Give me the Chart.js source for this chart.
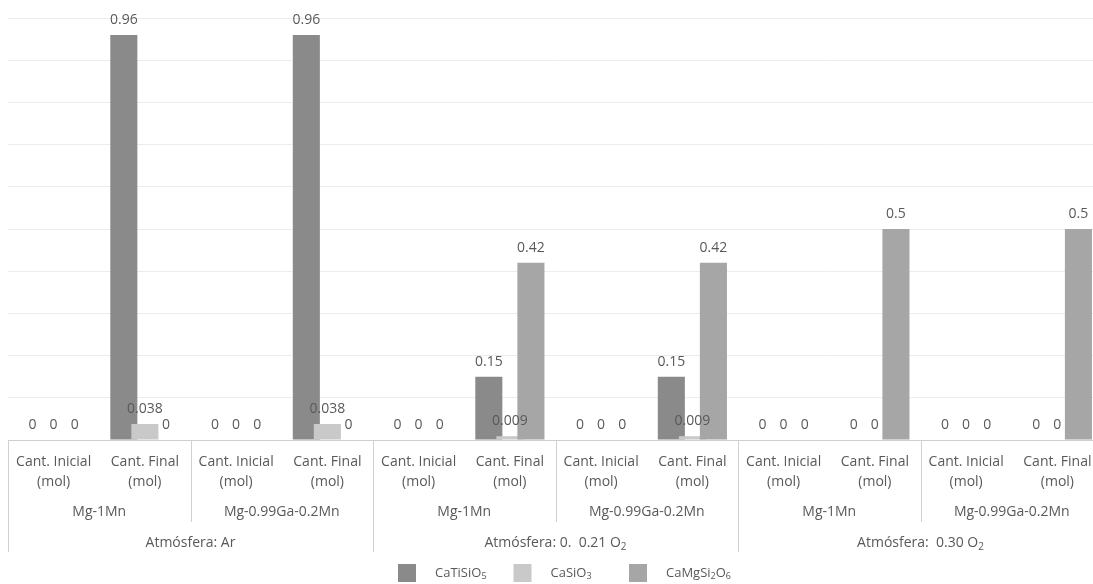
<!DOCTYPE html>
<html>
<head>
<meta charset="utf-8">
<script src="https://cdn.jsdelivr.net/npm/chart.js@4/dist/chart.umd.min.js"></script>
<style>
  html, body { margin: 0; padding: 0; background: #ffffff; overflow: hidden; }
  #wrap { width: 1104px; height: 584px; }
</style>
</head>
<body>
<div id="wrap"><canvas id="chart" width="1104" height="584"></canvas></div>
<script>
// Category labels (innermost level of the x axis)
const categories = [
  ["Cant. Inicial", "(mol)"], ["Cant. Final", "(mol)"],
  ["Cant. Inicial", "(mol)"], ["Cant. Final", "(mol)"],
  ["Cant. Inicial", "(mol)"], ["Cant. Final", "(mol)"],
  ["Cant. Inicial", "(mol)"], ["Cant. Final", "(mol)"],
  ["Cant. Inicial", "(mol)"], ["Cant. Final", "(mol)"],
  ["Cant. Inicial", "(mol)"], ["Cant. Final", "(mol)"]
];
// Second level: alloy, spans two categories each
const alloys = ["Mg-1Mn", "Mg-0.99Ga-0.2Mn", "Mg-1Mn", "Mg-0.99Ga-0.2Mn", "Mg-1Mn", "Mg-0.99Ga-0.2Mn"];
// Third level: atmosphere, spans two alloys each ("_" marks a subscript character)
const atmospheres = ["Atmósfera: Ar", "Atmósfera: 0.  0.21 O_2", "Atmósfera:  0.30 O_2"];

// Series names ("_" marks a subscript character)
const seriesNames = ["CaTiSiO_5", "CaSiO_3", "CaMgSi_2O_6"];
const seriesColors = ["#8a8a8a", "#c9c9c9", "#a6a6a6"];

// Amounts in mol
const caTiSiO5  = [0, 0.96, 0, 0.96, 0, 0.15,  0, 0.15,  0, 0,   0, 0];
const caSiO3    = [0, 0.038, 0, 0.038, 0, 0.009, 0, 0.009, 0, 0, 0, 0];
const caMgSi2O6 = [0, 0, 0, 0, 0, 0.42, 0, 0.42, 0, 0.5, 0, 0.5];

const FONT = "'Open Sans', 'DejaVu Sans', sans-serif";
const TEXT_COLOR = "#595959";
const LINE_COLOR = "#d0d0d0";

function parseRich(s) {
  const parts = [];
  let buf = "";
  for (let i = 0; i < s.length; i++) {
    if (s[i] === "_") {
      if (buf) { parts.push({ t: buf, sub: false }); buf = ""; }
      parts.push({ t: s[i + 1], sub: true });
      i++;
    } else {
      buf += s[i];
    }
  }
  if (buf) parts.push({ t: buf, sub: false });
  return parts;
}

function drawRich(ctx, s, x, y, size, align) {
  const parts = parseRich(s);
  const subSize = Math.round(size * 0.68);
  let w = 0;
  parts.forEach(p => {
    ctx.font = (p.sub ? subSize : size) + "px " + FONT;
    p.w = ctx.measureText(p.t).width;
    w += p.w;
  });
  let cx = align === "center" ? x - w / 2 : x;
  ctx.textAlign = "left";
  ctx.textBaseline = "middle";
  parts.forEach(p => {
    ctx.font = (p.sub ? subSize : size) + "px " + FONT;
    ctx.fillText(p.t, cx, p.sub ? y + size * 0.28 : y);
    cx += p.w;
  });
}

const groupedAxis = {
  id: "groupedAxis",
  // bars are painted in series order so later series sit on top of earlier ones
  beforeDatasetsDraw(chart) {
    const metas = chart.getSortedVisibleDatasetMetas().slice().sort((a, b) => a.index - b.index);
    const ctx = chart.ctx;
    const a = chart.chartArea;
    ctx.save();
    ctx.beginPath();
    ctx.rect(a.left, a.top - 1, a.right - a.left, a.bottom - a.top + 1);
    ctx.clip();
    metas.forEach(m => m.controller.draw());
    ctx.restore();
    return false;
  },
  afterDraw(chart) {
    const ctx = chart.ctx;
    const xs = chart.scales.x;
    const n = categories.length;
    const catW = (xs.right - xs.left) / n;
    const edge = k => xs.left + k * catW;
    const base = chart.chartArea.bottom;

    ctx.save();
    // value labels above each bar
    ctx.fillStyle = TEXT_COLOR;
    ctx.font = "14px " + FONT;
    ctx.textAlign = "center";
    ctx.textBaseline = "middle";
    chart.data.datasets.forEach((ds, di) => {
      const meta = chart.getDatasetMeta(di);
      meta.data.forEach((bar, i) => {
        ctx.fillText(String(ds.data[i]), bar.x, bar.y - 15);
      });
    });

    // separators between groups
    ctx.strokeStyle = LINE_COLOR;
    ctx.lineWidth = 1;
    const vline = (x, y2) => {
      const px = Math.round(x) + 0.5;
      ctx.beginPath();
      ctx.moveTo(px, base);
      ctx.lineTo(px, y2);
      ctx.stroke();
    };
    for (let k = 0; k <= n; k += 2) {
      if (k % 4 === 0) vline(edge(k), 552);
      else vline(edge(k), 522);
    }

    // alloy and atmosphere labels
    ctx.fillStyle = TEXT_COLOR;
    alloys.forEach((t, j) => drawRich(ctx, t, edge(2 * j + 1), 512, 14, "center"));
    atmospheres.forEach((t, j) => drawRich(ctx, t, edge(4 * j + 2), 543, 14, "center"));

    // legend
    const legendLeft = 398, pitch = 115.5;
    chart.data.datasets.forEach((ds, di) => {
      const x0 = legendLeft + di * pitch;
      ctx.fillStyle = ds.backgroundColor;
      ctx.fillRect(x0, 564, 18, 18);
      ctx.fillStyle = TEXT_COLOR;
      drawRich(ctx, seriesNames[di], x0 + 37, 573, 13, "left");
    });
    ctx.restore();
  }
};

const seriesValues = [caTiSiO5, caSiO3, caMgSi2O6];

new Chart(document.getElementById("chart"), {
  type: "bar",
  data: {
    labels: categories,
    datasets: seriesValues.map((vals, i) => ({
      label: seriesNames[i].replace(/_/g, ""),
      data: vals,
      backgroundColor: seriesColors[i],
      borderWidth: 0,
      categoryPercentage: 0.692,
      barPercentage: 1.286
    }))
  },
  options: {
    responsive: false,
    animation: false,
    layout: { padding: { left: 8, right: 1, top: 18, bottom: 0 } },
    plugins: {
      legend: { display: false },
      tooltip: { enabled: false },
      title: { display: false }
    },
    scales: {
      x: {
        grid: { display: false, drawTicks: false },
        border: { display: true, color: LINE_COLOR, width: 1 },
        ticks: {
          color: TEXT_COLOR,
          font: { family: FONT, size: 14, lineHeight: 1.43 },
          padding: 12,
          maxRotation: 0,
          autoSkip: false
        },
        afterFit(scale) { scale.height = 144; }
      },
      y: {
        min: 0,
        max: 1,
        ticks: { display: false, stepSize: 0.1 },
        grid: { color: "#ececec", drawTicks: false },
        border: { display: false }
      }
    }
  },
  plugins: [groupedAxis]
});
</script>
</body>
</html>
